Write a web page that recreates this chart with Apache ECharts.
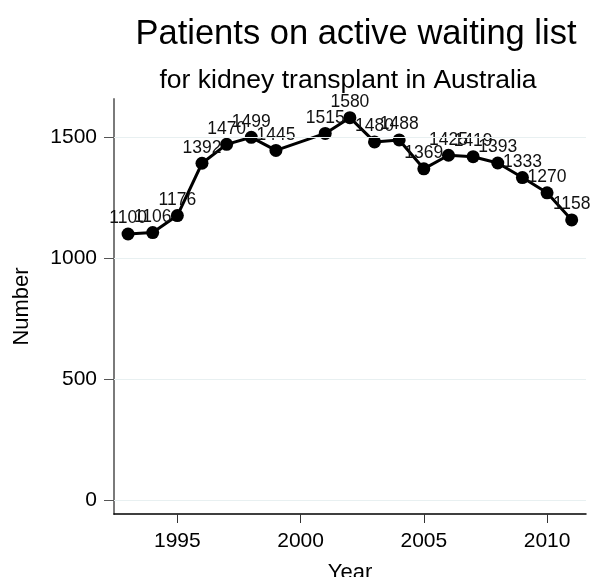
<!DOCTYPE html>
<html>
<head>
<meta charset="utf-8">
<script src="https://cdn.jsdelivr.net/npm/echarts@6/dist/echarts.min.js"></script>
<style>html,body{margin:0;padding:0;background:#fff;}#c{width:592px;height:577px;}</style>
</head>
<body>
<div id="c"></div>
<script>
const years = [1993,1994,1995,1996,1997,1998,1999,2001,2002,2003,2004,2005,2006,2007,2008,2009,2010,2011];
const patients = [1100,1106,1176,1392,1470,1499,1445,1515,1580,1480,1488,1369,1425,1419,1393,1333,1270,1158];
const xTicks = [1995,2000,2005,2010];
const yTicks = [0,500,1000,1500];

const FONT = '"Liberation Sans", Arial, Helvetica, sans-serif';
const pts = years.map((y,i)=>[y, patients[i]]);

const chart = echarts.init(document.getElementById('c'), null, {renderer:'canvas'});
chart.setOption({
  backgroundColor:'#fff',
  animation:false,
  textStyle:{fontFamily:FONT},
  title:[
    {text:'Patients on active waiting list', left:351, top:12, textAlign:'center',
     textStyle:{fontFamily:FONT, fontSize:34.5, fontWeight:'normal', color:'#000'}},
    {text:'for kidney transplant in Australia', left:343, top:62, textAlign:'center',
     textStyle:{fontFamily:FONT, fontSize:26.5, fontWeight:'normal', color:'#000'}}
  ],
  grid:{left:114, right:6, top:99, bottom:63, containLabel:false, outerBoundsMode:'none'},
  xAxis:{
    type:'value', min:1992.43, max:2011.58,
    name:'Year', nameLocation:'middle', nameGap:48,
    nameTextStyle:{fontFamily:FONT, fontSize:22, color:'#000'},
    axisLine:{show:true, onZero:false, lineStyle:{color:'#000', width:1.5}},
    axisTick:{show:true, length:9, customValues:xTicks, lineStyle:{color:'#333', width:1}},
    axisLabel:{customValues:xTicks, margin:17, fontFamily:FONT, fontSize:21, color:'#000',
      formatter:v=>String(v)},
    splitLine:{show:false}
  },
  yAxis:{
    type:'value', min:-55, max:1657,
    name:'Number', nameLocation:'middle', nameGap:81, nameRotate:90,
    nameTextStyle:{fontFamily:FONT, fontSize:22, color:'#000'},
    axisLine:{show:true, onZero:false, lineStyle:{color:'#7a7a7a', width:2}},
    axisTick:{show:true, length:10, customValues:yTicks, lineStyle:{color:'#555', width:1}},
    axisLabel:{customValues:yTicks, margin:17, fontFamily:FONT, fontSize:21, color:'#000',
      formatter:v=>String(v)},
    splitLine:{show:false}
  },
  series:[
    {
      type:'line', data:pts, z:1, symbol:'none', silent:true,
      lineStyle:{opacity:0}, label:{show:false},
      markLine:{silent:true, symbol:'none', label:{show:false},
        lineStyle:{color:'#e8f0f1', width:1, type:'solid'},
        data: yTicks.map(v=>({yAxis:v}))}
    },
    {
      type:'line', data:pts, z:3,
      symbol:'circle', symbolSize:13,
      itemStyle:{color:'#000'},
      lineStyle:{color:'#000', width:3},
      label:{show:true, position:'top', distance:0, fontFamily:FONT, fontSize:17.5, color:'#111',
        formatter:p=>String(p.value[1])}
    }
  ]
});
</script>
</body>
</html>
